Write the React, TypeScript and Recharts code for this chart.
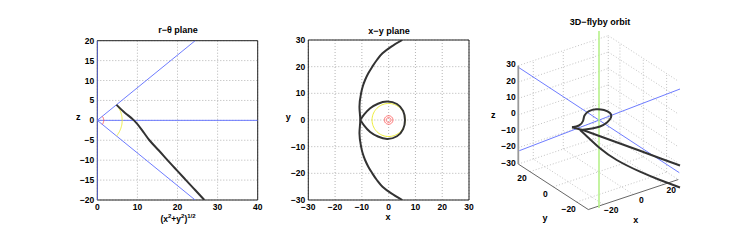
import React from 'react'
import { CartesianGrid, ComposedChart, Line, LineChart, ReferenceArea, XAxis, YAxis } from 'recharts'

// ---- data ----
const rTicks = [0, 10, 20, 30, 40]
const zTicks = [-20, -15, -10, -5, 0, 5, 10, 15, 20]
const xyTicks = [-30, -20, -10, 0, 10, 20, 30]

// r-theta plane: trajectory (r, z)
const rzTrajectory: [number, number][] = [
  [4.8, 3.9], [7, 1.8], [9.15, 0], [11.2, -2.5], [13, -5], [15.3, -7.5],
  [17.5, -10], [19.8, -12.5], [22.1, -15], [24.4, -17.5], [26.7, -20],
]
const coneUpper: [number, number][] = [[0, 0], [24.4, 20]]
const coneLower: [number, number][] = [[0, 0], [24.4, -20]]
const rAxisLine: [number, number][] = [[0, 0], [40, 0]]
const zAxisLine: [number, number][] = [[0, -20], [0, 20]]
const yellowRadius = 6.2
const redRadius = 1.6
const coneHalfAngle = 39.3

// x-y plane
const outerBranch: [number, number][] = [
  [5.1, 30], [1.0, 27.5], [-2.3, 25], [-4.4, 22.5], [-6.1, 20], [-7.6, 17.5], [-8.8, 15],
  [-9.7, 12.5], [-10.3, 10], [-10.9, 5], [-10.6, 0], [-10.9, -5], [-10.3, -10], [-9.7, -12.5],
  [-8.8, -15], [-7.6, -17.5], [-6.1, -20], [-4.4, -22.5], [-2.3, -25], [1.0, -27.5], [5.1, -30],
]
const innerLoop: [number, number][] = [
  [-10.6, 0], [-9.2, 2], [-6.9, 4.4], [-4, 6.1], [-0.6, 6.9], [3.1, 6], [5.4, 3.4], [6.1, 0],
  [5.4, -3.4], [3.1, -6.1], [-0.6, -7.1], [-4, -6.2], [-6.9, -4.5], [-9.2, -2], [-10.6, 0],
]
const xyYellowRadius = 6.2
const xyRedRadii = [1.6, 0.9]

// 3D flyby: axes ticks and projected curves (page coordinates)
const ticks3dXY = [-20, 0, 20]
const ticks3dZ = [-30, -20, -10, 0, 10, 20, 30]
const lim3d = 30
const straightTail: [number, number][] = [
  [572, 127.3], [585, 130.8], [600, 136.2], [620, 143.5], [640, 150.8], [660, 158.2], [680, 165.5],
]
const loop3d: [number, number][] = [
  [572, 127.3], [579, 125.5], [583, 121], [584.5, 115.5], [589, 111.2], [596, 109.3], [604, 110],
  [610, 113], [611, 117.5], [607, 122.5], [600, 126.5], [592, 128.5], [585, 129.5], [580, 130],
]
const curvedTail: [number, number][] = [
  [580, 130], [587.3, 136.7], [600, 148.3], [616.7, 160], [640, 171.7], [660, 180], [680, 187.5],
]
const blueLineA: [number, number][] = [[519, 67.7], [679.3, 172.7]]
const blueLineB: [number, number][] = [[519.3, 150.7], [680, 89]]
const greenLine: [number, number][] = [[599, 31], [599, 208]]

// ---- helpers ----
const toXY = (pts: [number, number][]) => pts.map(([x, y]) => ({ x, y }))
const toUV = (pts: [number, number][]) => pts.map(([u, v]) => ({ u, v }))

const arc = (r: number, a0: number, a1: number, cx = 0, cy = 0) => {
  const out: { x: number; y: number }[] = []
  const n = 72
  for (let i = 0; i <= n; i++) {
    const a = ((a0 + ((a1 - a0) * i) / n) * Math.PI) / 180
    out.push({ x: cx + r * Math.cos(a), y: cy + r * Math.sin(a) })
  }
  return out
}

const P0 = { u: 598.3, v: 122.6 }
const EX = { u: 1.5, v: -0.5 }
const EY = { u: -1.167, v: -0.758 }
const EZ = { u: 0, v: -1.64 }
const proj = (x: number, y: number, z: number) => ({
  u: P0.u + x * EX.u + y * EY.u + z * EZ.u,
  v: P0.v + x * EX.v + y * EY.v + z * EZ.v,
})

const L = lim3d
const gridSegs: { u: number; v: number }[][] = []
ticks3dZ.forEach((z) => {
  gridSegs.push([proj(-L, L, z), proj(L, L, z)])
  gridSegs.push([proj(L, L, z), proj(L, -L, z)])
})
ticks3dXY.forEach((t) => {
  gridSegs.push([proj(t, L, -L), proj(t, L, L)])
  gridSegs.push([proj(t, -L, -L), proj(t, L, -L)])
  gridSegs.push([proj(L, t, -L), proj(L, t, L)])
  gridSegs.push([proj(-L, t, -L), proj(L, t, -L)])
})
gridSegs.push([proj(L, L, -L), proj(L, L, L)])

const FONT = "'Liberation Sans', Arial, Helvetica, sans-serif"
const tickStyle = { fill: '#000', fontSize: 8.5, fontWeight: 'bold' as const, fontFamily: FONT }
const fmt = (v: number) => (v < 0 ? '\u2212' + Math.abs(v) : String(v))

const BLUE = '#5d6dff'
const YELLOW = '#eeee3c'
const RED = '#ff5a5a'
const DARK = '#333'
const GRID = '#b4b4b4'

const series = (data: any[], stroke: string, width: number, type: any = 'linear', key?: string) => (
  <Line
    key={key}
    data={data}
    dataKey="y"
    type={type}
    stroke={stroke}
    strokeWidth={width}
    dot={false}
    activeDot={false}
    isAnimationActive={false}
  />
)

const series3d = (data: any[], stroke: string, width: number, key: string, dash?: string, type: any = 'linear') => (
  <Line
    key={key}
    data={data}
    dataKey="v"
    type={type}
    stroke={stroke}
    strokeWidth={width}
    strokeDasharray={dash}
    dot={false}
    activeDot={false}
    isAnimationActive={false}
  />
)

const txt = { fontFamily: FONT, fontWeight: 'bold' as const, fill: '#000' }

export default function App() {
  return (
    <div style={{ position: 'absolute', left: 0, top: 0, width: 750, height: 250, background: '#fff' }}>
      {/* r-theta plane */}
      <div style={{ position: 'absolute', left: 40, top: 0 }}>
        <LineChart width={240} height={250} margin={{ top: 40.7, right: 22.3, bottom: 20, left: 27.3 }}>
          <CartesianGrid stroke={GRID} strokeDasharray="1 2" />
          <XAxis type="number" dataKey="x" domain={[0, 40]} ticks={rTicks} interval={0} height={30}
            tickSize={0} tickMargin={4} axisLine={false} tick={tickStyle} tickFormatter={fmt} allowDataOverflow />
          <YAxis type="number" dataKey="y" domain={[-20, 20]} ticks={zTicks} interval={0} width={30}
            tickSize={0} tickMargin={3} axisLine={false} tick={tickStyle} tickFormatter={fmt} allowDataOverflow />
          <ReferenceArea x1={0} x2={40} y1={-20} y2={20} fill="none" stroke="#222" strokeWidth={1} />
          {series(toXY(coneUpper), BLUE, 0.9, 'linear', 'cu')}
          {series(toXY(coneLower), BLUE, 0.9, 'linear', 'cl')}
          {series(toXY(rAxisLine), BLUE, 0.9, 'linear', 'ra')}
          {series(toXY(zAxisLine), BLUE, 1.2, 'linear', 'za')}
          {series(arc(yellowRadius, coneHalfAngle, -coneHalfAngle), YELLOW, 1, 'linear', 'ya')}
          {series(arc(redRadius, coneHalfAngle, -coneHalfAngle), RED, 1, 'linear', 'rd')}
          {series(toXY(rzTrajectory), DARK, 2, 'natural', 'tr')}
        </LineChart>
      </div>

      {/* x-y plane */}
      <div style={{ position: 'absolute', left: 250, top: 0 }}>
        <LineChart width={240} height={250} margin={{ top: 40, right: 21, bottom: 20, left: 28.3 }}>
          <CartesianGrid stroke={GRID} strokeDasharray="1 2" />
          <XAxis type="number" dataKey="x" domain={[-30, 30]} ticks={xyTicks} interval={0} height={30}
            tickSize={0} tickMargin={4} axisLine={false} tick={tickStyle} tickFormatter={fmt} allowDataOverflow />
          <YAxis type="number" dataKey="y" domain={[-30, 30]} ticks={xyTicks} interval={0} width={30}
            tickSize={0} tickMargin={3} axisLine={false} tick={tickStyle} tickFormatter={fmt} allowDataOverflow />
          <ReferenceArea x1={-30} x2={30} y1={-30} y2={30} fill="none" stroke="#222" strokeWidth={1} />
          {series(arc(xyYellowRadius, 0, 360), YELLOW, 1, 'linear', 'yc')}
          {xyRedRadii.map((r, i) => series(arc(r, 0, 360), RED, 0.9, 'linear', 'rc' + i))}
          {series(toXY(outerBranch), DARK, 2, 'monotoneY', 'ob')}
          {series(toXY(innerLoop), DARK, 2, 'natural', 'il')}
        </LineChart>
      </div>

      {/* 3D flyby orbit */}
      <div style={{ position: 'absolute', left: 480, top: 0 }}>
        <ComposedChart width={270} height={250} margin={{ top: 0, right: 0, bottom: 0, left: 0 }}>
          <XAxis hide type="number" dataKey="u" domain={[480, 750]} height={0} />
          <YAxis hide type="number" domain={[0, 250]} reversed width={0} />
          {gridSegs.map((s, i) => series3d(s, GRID, 0.8, 'g' + i, '1 2'))}
          {series3d([proj(-L, -L, -L), proj(L, -L, -L)], '#555', 0.9, 'ax')}
          {series3d([proj(-L, L, -L), proj(-L, -L, -L)], '#555', 0.9, 'ay')}
          {series3d([proj(-L, L, -L), proj(-L, L, L)], '#999', 1.8, 'az')}
          {series3d(toUV(blueLineA), BLUE, 0.9, 'ba')}
          {series3d(toUV(blueLineB), BLUE, 0.9, 'bb')}
          {series3d(toUV(greenLine), '#b6f08a', 1.6, 'gr')}
          {series3d(toUV(straightTail), DARK, 2, 'st')}
          {series3d(toUV(loop3d), DARK, 2, 'lp', undefined, 'natural')}
          {series3d(toUV(curvedTail), DARK, 2, 'ct', undefined, 'natural')}
        </ComposedChart>
      </div>

      {/* titles, axis labels, 3D tick labels */}
      <svg width={750} height={250} style={{ position: 'absolute', left: 0, top: 0, pointerEvents: 'none' }}>
        <text x={178} y={33} textAnchor="middle" fontSize={9} {...txt}>r{'\u2212'}θ plane</text>
        <text x={78.3} y={119.5} textAnchor="middle" fontSize={9} {...txt}>z</text>
        <text x={178} y={221.5} textAnchor="middle" fontSize={8.5} {...txt}>
          (x<tspan dy={-4} fontSize={6}>2</tspan>
          <tspan dy={4}>+y</tspan>
          <tspan dy={-4} fontSize={6}>2</tspan>
          <tspan dy={4}>)</tspan>
          <tspan dy={-4} fontSize={6}>1/2</tspan>
        </text>

        <text x={389} y={34} textAnchor="middle" fontSize={9} {...txt}>x{'\u2212'}y plane</text>
        <text x={288.3} y={119.5} textAnchor="middle" fontSize={9} {...txt}>y</text>
        <text x={388} y={219.5} textAnchor="middle" fontSize={9} {...txt}>x</text>

        <text x={600} y={25} textAnchor="middle" fontSize={9} {...txt}>3D{'\u2212'}flyby orbit</text>
        {ticks3dZ.map((z) => {
          const p = proj(-L, L, z)
          return (
            <text key={'tz' + z} x={p.u - 2.5} y={p.v - 1.4} dy="0.35em" textAnchor="end" fontSize={8.5} {...txt}>{fmt(z)}</text>
          )
        })}
        {ticks3dXY.map((y) => {
          const p = proj(-L, y, -L)
          return (
            <text key={'ty' + y} x={p.u - 8} y={p.v + 6.8} dy="0.35em" textAnchor="middle" fontSize={8.5} {...txt}>{fmt(y)}</text>
          )
        })}
        {ticks3dXY.map((x) => {
          const p = proj(x, -L, -L)
          return (
            <text key={'tx' + x} x={p.u + 8} y={p.v + 5.5} dy="0.35em" textAnchor="middle" fontSize={8.5} {...txt}>{fmt(x)}</text>
          )
        })}
        <text x={493.3} y={118} textAnchor="middle" fontSize={9} {...txt}>z</text>
        <text x={545} y={221} textAnchor="middle" fontSize={9} {...txt}>y</text>
        <text x={635.7} y={223} textAnchor="middle" fontSize={9} {...txt}>x</text>
      </svg>
    </div>
  )
}
